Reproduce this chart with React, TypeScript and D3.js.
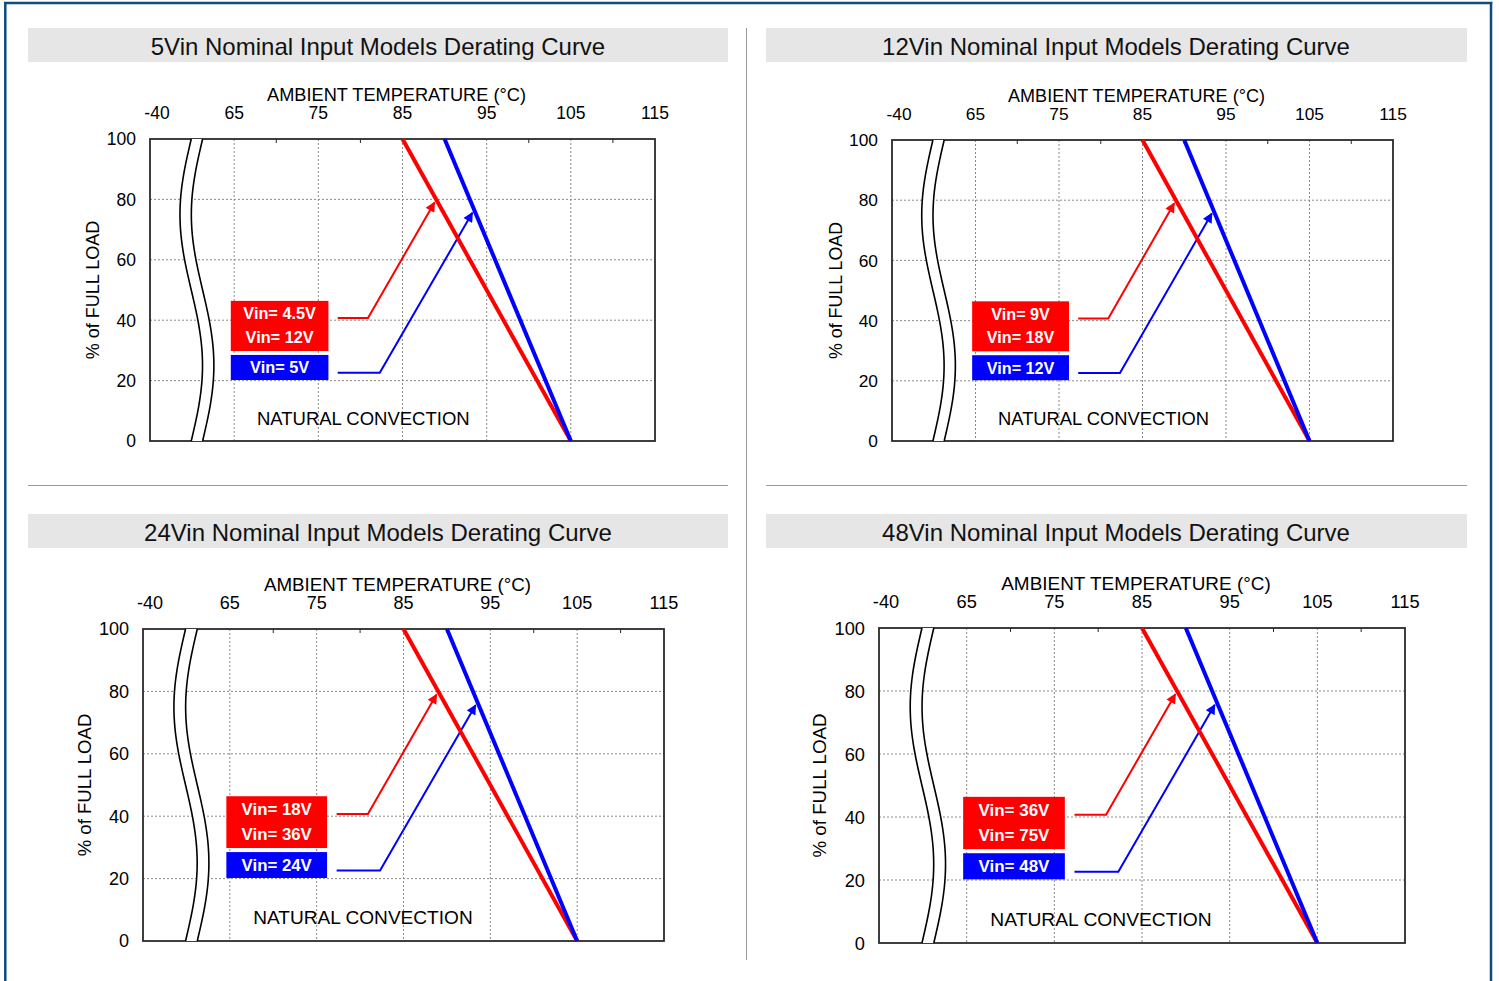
import React from "react";
import * as d3 from "d3";

// ---------- data ----------
const panelTitles = [
  "5Vin Nominal Input Models Derating Curve",
  "12Vin Nominal Input Models Derating Curve",
  "24Vin Nominal Input Models Derating Curve",
  "48Vin Nominal Input Models Derating Curve",
];
const redLabels = [
  ["Vin= 4.5V", "Vin= 12V"],
  ["Vin= 9V", "Vin= 18V"],
  ["Vin= 18V", "Vin= 36V"],
  ["Vin= 36V", "Vin= 75V"],
];
const blueLabels = ["Vin= 5V", "Vin= 12V", "Vin= 24V", "Vin= 48V"];

const tempTicks = [65, 75, 85, 95, 105, 115];
const minorTempTicks = [70, 80, 90, 100, 110];
const lowTempLabel = "-40";
const loadTicks = [0, 20, 40, 60, 80, 100];
const gridTemps = [65, 75, 85, 95, 105];
const gridLoads = [20, 40, 60, 80];

// derating curves: [temperature °C, % load]
const redCurve: [number, number][] = [
  [85, 100],
  [105, 0],
];
const blueCurve: [number, number][] = [
  [90, 100],
  [105, 0],
];
// annotation arrows (data coordinates)
const redArrow: [number, number][] = [
  [77.3, 40.7],
  [80.9, 40.7],
  [88.8, 79.0],
];
const blueArrow: [number, number][] = [
  [77.3, 22.6],
  [82.3, 22.6],
  [93.3, 75.6],
];
// label boxes in data coordinates [t0, t1, loadTop, loadBottom]
const redBox = [64.6, 76.2, 46.4, 29.8];
const blueBox = [64.6, 76.2, 28.5, 20.2];
const convectionPos = [67.7, 7.6];
const breakCenters = [59.9, 61.25];
const breakAmp = 1.34;

// ---------- layout ----------
const layouts = [
  { x0: 150, x1: 655, y0: 139, y1: 441, bx: 28, by: 28 },
  { x0: 892, x1: 1393, y0: 140, y1: 441, bx: 766, by: 28 },
  { x0: 143, x1: 664, y0: 629, y1: 941, bx: 28, by: 514 },
  { x0: 879, x1: 1405, y0: 628, y1: 943, bx: 766, by: 514 },
];

const FONT = "'Liberation Sans', Arial, Helvetica, sans-serif";

function Panel({ i }: { i: number }) {
  const L = layouts[i];
  const x = d3.scaleLinear().domain([55, 115]).range([L.x0, L.x1]);
  const y = d3.scaleLinear().domain([0, 100]).range([L.y1, L.y0]);
  const fs = (L.x1 - L.x0) / 505;
  const line = d3
    .line<[number, number]>()
    .x((d) => x(d[0]))
    .y((d) => y(d[1]));

  // break curves
  const N = 60;
  const samples = d3.range(N + 1).map((k) => k / N);
  const breakPts = (c: number) =>
    samples.map((t) => [x(c - breakAmp * Math.sin(2 * Math.PI * t)), L.y0 + t * (L.y1 - L.y0)] as [number, number]);
  const b1 = breakPts(breakCenters[0]);
  const b2 = breakPts(breakCenters[1]);
  const pathOf = (pts: [number, number][]) => "M" + pts.map((p) => p.join(",")).join("L");
  const gapPath =
    "M" +
    b1.map((p) => `${p[0]},${p[1]}`).join("L") +
    "L" +
    b2
      .slice()
      .reverse()
      .map((p) => `${p[0]},${p[1]}`)
      .join("L") +
    "Z";

  const bw = 700;
  const cx = (L.x0 + L.x1) / 2;
  const cy = (L.y0 + L.y1) / 2;

  const rb = { x: x(redBox[0]), w: x(redBox[1]) - x(redBox[0]), y: y(redBox[2]), h: y(redBox[3]) - y(redBox[2]) };
  const bb = { x: x(blueBox[0]), w: x(blueBox[1]) - x(blueBox[0]), y: y(blueBox[2]), h: y(blueBox[3]) - y(blueBox[2]) };

  return (
    <g fontFamily={FONT}>
      {/* title band */}
      <rect x={L.bx} y={L.by} width={bw + (i % 2 === 1 ? 1 : 0)} height={34} fill="#e6e6e6" />
      <text x={L.bx + bw / 2} y={L.by + 26.5} textAnchor="middle" fontSize={24} fill="#111">
        {panelTitles[i]}
      </text>

      {/* axis titles */}
      <text x={cx - 6} y={L.y0 - 38.5} textAnchor="middle" fontSize={18.2 * fs} fill="#000">
        AMBIENT TEMPERATURE (°C)
      </text>
      <text
        transform={`translate(${L.x0 - 57 * fs},${cy}) rotate(-90)`}
        textAnchor="middle"
        dy="0.36em"
        fontSize={18 * fs}
        fill="#000"
      >
        % of FULL LOAD
      </text>

      {/* temperature tick labels */}
      <text x={x(55) + 7} y={L.y0 - 20.5} textAnchor="middle" fontSize={17.5 * fs} fill="#000">
        {lowTempLabel}
      </text>
      {tempTicks.map((t) => (
        <text key={t} x={x(t)} y={L.y0 - 20.5} textAnchor="middle" fontSize={17.5 * fs} fill="#000">
          {t}
        </text>
      ))}
      {/* load tick labels */}
      {loadTicks.map((v) => (
        <text key={v} x={L.x0 - 14} y={y(v)} dy="0.36em" textAnchor="end" fontSize={17.5 * fs} fill="#000">
          {v}
        </text>
      ))}

      {/* grid */}
      {gridTemps.map((t) => (
        <line key={"gt" + t} x1={x(t)} x2={x(t)} y1={L.y0} y2={L.y1} stroke="#8a8a8a" strokeWidth={1} strokeDasharray="2,2" />
      ))}
      {gridLoads.map((v) => (
        <line key={"gl" + v} x1={L.x0} x2={L.x1} y1={y(v)} y2={y(v)} stroke="#8a8a8a" strokeWidth={1} strokeDasharray="2,2" />
      ))}
      {/* frame */}
      <rect x={L.x0} y={L.y0} width={L.x1 - L.x0} height={L.y1 - L.y0} fill="none" stroke="#2a2a2a" strokeWidth={1.8} />
      {minorTempTicks.map((t) => (
        <line key={"mt" + t} x1={x(t)} x2={x(t)} y1={L.y0} y2={L.y0 + 4} stroke="#2a2a2a" strokeWidth={1} />
      ))}

      {/* axis break */}
      <path d={gapPath} fill="#fff" stroke="none" />
      <path d={pathOf(b1)} fill="none" stroke="#000" strokeWidth={1.6} />
      <path d={pathOf(b2)} fill="none" stroke="#000" strokeWidth={1.6} />

      {/* label boxes */}
      <rect x={rb.x} y={rb.y} width={rb.w} height={rb.h} fill="#ff0000" />
      <text x={rb.x + rb.w / 2} y={rb.y + rb.h * 0.25} dy="0.36em" textAnchor="middle" fontSize={16.3 * fs} fontWeight="bold" fill="#fff">
        {redLabels[i][0]}
      </text>
      <text x={rb.x + rb.w / 2} y={rb.y + rb.h * 0.72} dy="0.36em" textAnchor="middle" fontSize={16.3 * fs} fontWeight="bold" fill="#fff">
        {redLabels[i][1]}
      </text>
      <rect x={bb.x} y={bb.y} width={bb.w} height={bb.h} fill="#0000ff" />
      <text x={bb.x + bb.w / 2} y={bb.y + bb.h / 2} dy="0.36em" textAnchor="middle" fontSize={16.3 * fs} fontWeight="bold" fill="#fff">
        {blueLabels[i]}
      </text>

      <text x={x(convectionPos[0])} y={y(convectionPos[1])} dy="0.36em" fontSize={18.5 * fs} fill="#000">
        NATURAL CONVECTION
      </text>

      {/* arrows */}
      <path d={line(redArrow) || ""} fill="none" stroke="#ff0000" strokeWidth={2} markerEnd="url(#arrRed)" />
      <path d={line(blueArrow) || ""} fill="none" stroke="#0000ff" strokeWidth={2} markerEnd="url(#arrBlue)" />

      {/* derating curves */}
      <path d={line(redCurve) || ""} fill="none" stroke="#ff0000" strokeWidth={4} />
      <path d={line(blueCurve) || ""} fill="none" stroke="#0000ff" strokeWidth={4} />
    </g>
  );
}

export default function App() {
  return (
    <svg
      width={1499}
      height={981}
      style={{ position: "absolute", left: 0, top: 0, background: "#fff" }}
    >
      <defs>
        <marker id="arrRed" viewBox="0 0 10 10" refX={9} refY={5} markerWidth={12} markerHeight={10} markerUnits="userSpaceOnUse" orient="auto">
          <path d="M0,0L10,5L0,10Z" fill="#ff0000" />
        </marker>
        <marker id="arrBlue" viewBox="0 0 10 10" refX={9} refY={5} markerWidth={12} markerHeight={10} markerUnits="userSpaceOnUse" orient="auto">
          <path d="M0,0L10,5L0,10Z" fill="#0000ff" />
        </marker>
      </defs>
      <rect x={0} y={0} width={1499} height={981} fill="#fff" />
      {/* outer border */}
      <line x1={5.3} x2={5.3} y1={2} y2={981} stroke="#0f4a80" strokeWidth={2.5} />
      <line x1={1491} x2={1491} y1={2} y2={981} stroke="#0f4a80" strokeWidth={2.5} />
      <line x1={4} x2={1492.3} y1={3} y2={3} stroke="#0f4a80" strokeWidth={2.5} />
      {/* dividers */}
      <line x1={746.5} x2={746.5} y1={28} y2={960} stroke="#9a9a9a" strokeWidth={1} />
      <line x1={28} x2={728} y1={485.5} y2={485.5} stroke="#9a9a9a" strokeWidth={1} />
      <line x1={766} x2={1467} y1={485.5} y2={485.5} stroke="#9a9a9a" strokeWidth={1} />
      {layouts.map((_, i) => (
        <Panel key={i} i={i} />
      ))}
    </svg>
  );
}
